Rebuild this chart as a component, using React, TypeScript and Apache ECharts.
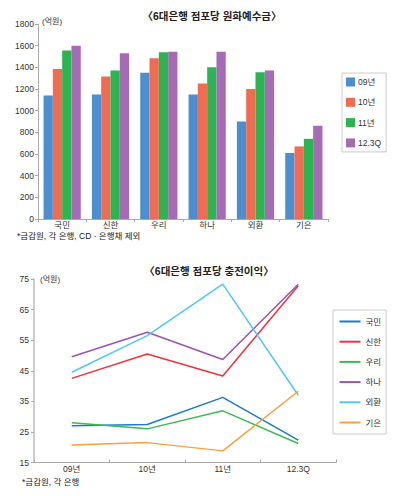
import React, { useEffect, useRef } from "react";
import * as echarts from "echarts";

const banks = ["국민", "신한", "우리", "하나", "외환", "기은"];
const depositYears = ["09년", "10년", "11년", "12.3Q"];
const dep09 = [1140, 1150, 1350, 1150, 900, 610];
const dep10 = [1385, 1315, 1485, 1250, 1200, 670];
const dep11 = [1555, 1370, 1540, 1400, 1355, 740];
const dep12 = [1600, 1530, 1545, 1545, 1370, 860];
const depositColors = ["#4a8fd0", "#f26a50", "#2bb551", "#a56cb5"];

const periods = ["09년", "10년", "11년", "12.3Q"];
const kookmin = [27.0, 27.4, 36.3, 22.3];
const shinhan = [42.5, 50.5, 43.3, 72.8];
const woori = [28.0, 26.0, 31.9, 21.2];
const hana = [49.6, 57.6, 48.7, 73.3];
const oehwan = [44.5, 56.5, 73.3, 37.0];
const giup = [20.7, 21.5, 18.8, 38.3];
const profitNames = ["국민", "신한", "우리", "하나", "외환", "기은"];
const profitColors = ["#1a7cc9", "#f0323c", "#3cbb55", "#9b55b0", "#4fc8f2", "#f9a040"];
const profitTicks = [15, 25, 35, 45, 55, 65, 75];

const FONT = "'Liberation Sans', 'Noto Sans CJK KR', sans-serif";

export default function App() {
  const ref = useRef<HTMLDivElement>(null);
  useEffect(() => {
    if (!ref.current) return;
    const chart = echarts.init(ref.current, undefined, { renderer: "svg" });
    const depData = [dep09, dep10, dep11, dep12];
    const profitData = [kookmin, shinhan, woori, hana, oehwan, giup];
    const axisLine = { show: true, lineStyle: { color: "#aaa", width: 1 } };
    const labelStyle = { color: "#333", fontSize: 8.5, fontFamily: FONT };
    chart.setOption({
      animation: false,
      textStyle: { fontFamily: FONT },
      grid: [
        { left: 38, top: 24, width: 290, height: 195 },
        { left: 34, top: 279, width: 302, height: 183.5 },
      ],
      xAxis: [
        {
          gridIndex: 0,
          type: "category",
          data: banks,
          axisLine,
          axisTick: { show: true, length: 3, lineStyle: { color: "#aaa" } },
          axisLabel: { ...labelStyle, margin: 2 },
        },
        {
          gridIndex: 1,
          type: "category",
          data: periods,
          axisLine,
          axisTick: { show: true, inside: true, length: 3, lineStyle: { color: "#aaa" } },
          axisLabel: { ...labelStyle, margin: 2 },
        },
      ],
      yAxis: [
        {
          gridIndex: 0,
          type: "value",
          min: 0,
          max: 1800,
          interval: 200,
          splitLine: { show: false },
          axisLine,
          axisTick: { show: true, length: 3, lineStyle: { color: "#aaa" } },
          axisLabel: { ...labelStyle, margin: 4, formatter: (v: number) => String(v) },
        },
        {
          gridIndex: 1,
          type: "value",
          min: 15,
          max: 75,
          splitLine: { show: false },
          axisLine: { show: true, lineStyle: { color: "#bbb", width: 1.5 } },
          axisTick: { show: true, length: 3, lineStyle: { color: "#aaa" }, customValues: profitTicks },
          axisLabel: { ...labelStyle, margin: 5, customValues: profitTicks, formatter: (v: number) => String(v) },
        },
      ],
      legend: [
        {
          data: depositYears,
          orient: "vertical",
          left: 342,
          top: 73,
          itemWidth: 9,
          itemHeight: 9,
          itemGap: 10.3,
          padding: [4, 5, 4, 4],
          borderColor: "#ccc",
          borderWidth: 1,
          icon: "rect",
          textStyle: { color: "#333", fontSize: 8.5, fontFamily: FONT, lineHeight: 10, padding: [0, 0, 0, -2] },
        },
        {
          data: profitNames,
          orient: "vertical",
          left: 333,
          top: 310,
          itemWidth: 21,
          itemHeight: 10,
          itemGap: 10.2,
          padding: [6.5, 5, 6.5, 5.5],
          borderColor: "#ccc",
          borderWidth: 1,
          itemStyle: { opacity: 0 },
          textStyle: { color: "#333", fontSize: 8.5, fontFamily: FONT, lineHeight: 10 },
        },
      ],
      series: [
        ...depositYears.map((name, i) => ({
          name,
          type: "bar",
          xAxisIndex: 0,
          yAxisIndex: 0,
          data: depData[i],
          barGap: "0%",
          barCategoryGap: "23%",
          itemStyle: { color: depositColors[i] },
        })),
        ...profitNames.map((name, i) => ({
          name,
          type: "line",
          xAxisIndex: 1,
          yAxisIndex: 1,
          data: profitData[i],
          symbol: "none",
          lineStyle: { color: profitColors[i], width: 1.5 },
          itemStyle: { color: profitColors[i] },
        })),
      ],
      graphic: [
        {
          type: "text",
          x: 212,
          y: 16,
          style: {
            text: "〈6대은행 점포당 원화예수금〉",
            fontSize: 10.5,
            fontWeight: "bold",
            fontFamily: FONT,
            fill: "#222",
            align: "center",
            verticalAlign: "middle",
          },
        },
        {
          type: "text",
          x: 42,
          y: 21,
          style: { text: "(억원)", fontSize: 8, fontFamily: FONT, fill: "#333", align: "left", verticalAlign: "middle" },
        },
        {
          type: "text",
          x: 17,
          y: 236,
          style: { text: "*금감원, 각 은행, CD · 은행채 제외", fontSize: 8.5, fontFamily: FONT, fill: "#222", align: "left", verticalAlign: "middle" },
        },
        {
          type: "text",
          x: 209,
          y: 270.5,
          style: {
            text: "〈6대은행 점포당 충전이익〉",
            fontSize: 10.5,
            fontWeight: "bold",
            fontFamily: FONT,
            fill: "#222",
            align: "center",
            verticalAlign: "middle",
          },
        },
        {
          type: "text",
          x: 40,
          y: 279,
          style: { text: "(억원)", fontSize: 8, fontFamily: FONT, fill: "#333", align: "left", verticalAlign: "middle" },
        },
        {
          type: "text",
          x: 22,
          y: 481.5,
          style: { text: "*금감원, 각 은행", fontSize: 8.5, fontFamily: FONT, fill: "#222", align: "left", verticalAlign: "middle" },
        },
      ],
    });
    return () => chart.dispose();
  }, []);
  return (
    <div
      ref={ref}
      style={{ position: "absolute", left: 0, top: 0, width: 400, height: 496, background: "#fff" }}
    />
  );
}
